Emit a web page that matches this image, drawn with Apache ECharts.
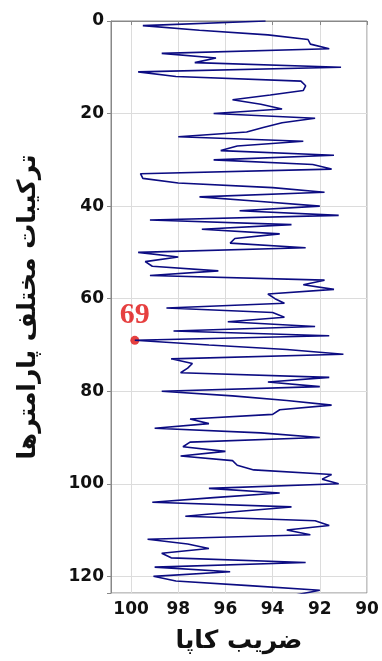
<!DOCTYPE html>
<html>
<head>
<meta charset="utf-8">
<script src="https://cdn.jsdelivr.net/npm/echarts@6/dist/echarts.min.js"></script>
<style>
  html, body { margin: 0; padding: 0; background: #fff; }
  #main { width: 382px; height: 661px; }
</style>
</head>
<body>
<div id="main"></div>
<script>
// kappa value for each parameter combination (index 0..124, top to bottom)
var kappa = [
  94.3, 99.5, 97.1, 94.2, 92.5, 92.4, 91.6, 98.7, 96.4, 97.3,
  91.1, 99.7, 98.1, 92.8, 92.6, 92.7, 94.1, 95.7, 94.5, 93.6,
  96.5, 92.2, 93.6, 94.4, 95.1, 98.0, 92.7, 95.5, 96.2, 91.4,
  96.5, 92.3, 91.5, 99.6, 99.5, 98.0, 94.0, 91.8, 97.1, 94.5,
  92.0, 95.4, 91.2, 99.2, 93.2, 97.0, 93.7, 95.6, 95.8, 92.6,
  99.7, 98.0, 99.4, 99.1, 96.3, 99.2, 91.8, 92.7, 91.4, 94.2,
  93.9, 93.5, 98.5, 94.0, 93.5, 95.9, 92.2, 98.2, 91.6, 99.84,
  96.7, 93.4, 91.0, 98.3, 97.4, 97.6, 97.9, 91.6, 94.2, 92.0,
  98.7, 95.7, 93.4, 91.5, 93.7, 94.0, 97.5, 96.7, 99.0, 94.5,
  92.0, 97.5, 97.8, 96.0, 97.9, 95.7, 95.5, 94.8, 91.5, 91.9,
  91.2, 96.7, 93.7, 96.5, 99.1, 93.2, 95.5, 97.7, 92.2, 91.6,
  93.4, 92.4, 99.3, 97.6, 96.7, 98.7, 98.3, 92.6, 99.0, 95.8,
  99.05, 98.1, 95.0, 92.0, 93.0
];
var bestIndex = 69;
var xTicks = [90, 92, 94, 96, 98, 100];
var yTicks = [0, 20, 40, 60, 80, 100, 120];

var lineData = kappa.map(function (v, i) { return [v, i]; });

var chart = echarts.init(document.getElementById('main'));

var tickLabel = {
  fontFamily: 'DejaVu Sans',
  fontWeight: 'bold',
  fontSize: 17,
  color: '#111'
};

var option = {
  backgroundColor: '#fff',
  animation: false,
  grid: {
    left: 111, right: 15, top: 21, bottom: 68,
    show: true, borderColor: '#888', borderWidth: 1
  },
  xAxis: {
    type: 'value',
    inverse: true,
    min: 90,
    max: 100.85,
    interval: 2,
    name: 'ضریب کاپا',
    nameLocation: 'middle',
    nameGap: 36,
    nameTextStyle: { fontFamily: 'DejaVu Sans', fontWeight: 'bold', fontSize: 25, color: '#111' },
    axisLine: { lineStyle: { color: '#888' } },
    axisTick: { show: true, length: 4, lineStyle: { color: '#888' } },
    splitLine: { show: true, lineStyle: { color: '#dcdcdc' } },
    axisLabel: Object.assign({
      margin: 8,
      formatter: function (v) { return xTicks.indexOf(v) >= 0 ? v : ''; }
    }, tickLabel)
  },
  yAxis: {
    type: 'value',
    inverse: true,
    min: 0,
    max: 123.6,
    interval: 20,
    name: 'ترکیبات مختلف پارامترها',
    nameLocation: 'middle',
    nameRotate: 90,
    nameGap: 70,
    nameTextStyle: { fontFamily: 'DejaVu Sans', fontWeight: 'bold', fontSize: 25, color: '#111' },
    axisLine: { show: true, lineStyle: { color: '#888' } },
    axisTick: { show: true, length: 4, lineStyle: { color: '#888' } },
    splitLine: { show: true, lineStyle: { color: '#dcdcdc' } },
    axisLabel: Object.assign({
      margin: 7,
      formatter: function (v) { return yTicks.indexOf(v) >= 0 ? v : ''; }
    }, tickLabel)
  },
  series: [
    {
      type: 'line',
      data: lineData,
      showSymbol: false,
      clip: true,
      lineStyle: { color: '#0c0c82', width: 1.6 }
    },
    {
      type: 'scatter',
      data: [[kappa[bestIndex], bestIndex]],
      symbolSize: 9,
      itemStyle: { color: '#e01010' },
      label: {
        show: true,
        position: 'top',
        distance: 6,
        formatter: String(bestIndex),
        fontFamily: 'Liberation Serif',
        fontWeight: 'bold',
        fontSize: 30,
        color: '#e01010'
      }
    }
  ]
};

chart.setOption(option);
</script>
</body>
</html>
